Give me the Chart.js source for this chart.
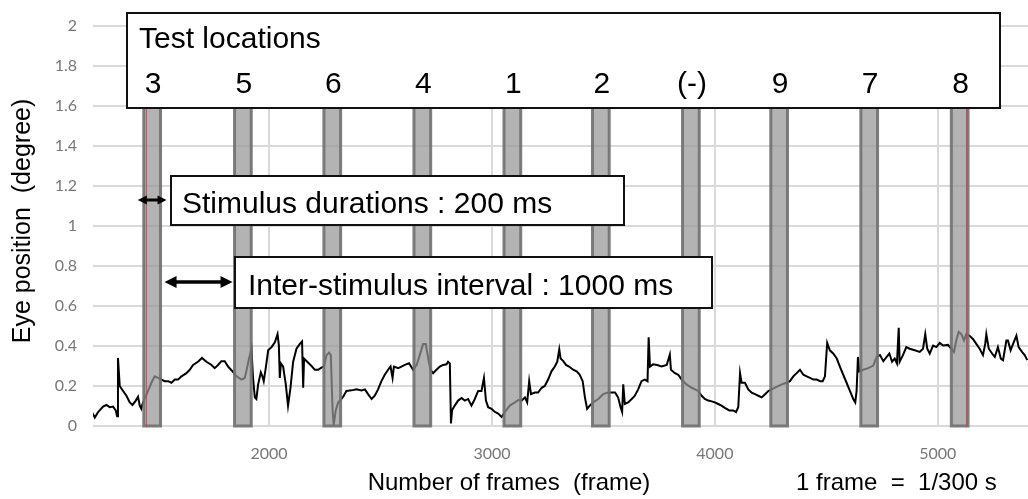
<!DOCTYPE html>
<html>
<head>
<meta charset="utf-8">
<script src="https://cdn.jsdelivr.net/npm/chart.js@4.4.1/dist/chart.umd.min.js"></script>
<style>
html, body { margin: 0; padding: 0; background: #fff; }
</style>
</head>
<body>
<canvas id="chart" width="1028" height="499"></canvas>
<script>
// x axis range and ticks (frames)
const xMin = 1210;
const xMax = 5405;
const xTicks = [2000, 3000, 4000, 5000];
const yTicks = [0, 0.2, 0.4, 0.6, 0.8, 1, 1.2, 1.4, 1.6, 1.8, 2];

// stimulus onsets (frame) and the test location shown at each
const stimulusStart = [1438, 1845, 2246, 2650, 3054, 3451, 3855, 4251, 4655, 5061];
const stimulusLength = 75;
const testLocations = ['3', '5', '6', '4', '1', '2', '(-)', '9', '7', '8'];
const markerFrames = [1450, 5127];

// eye trace
const frames = [
	1205,1218,1233,1255,1270,1285,1300,1312,1318,1322,1330,1345,1360,1375,1387,1402,1412,1420,1427,1432,
	1457,1472,1487,1502,1517,1532,1547,1562,1577,1592,1607,1629,1644,1659,1681,1699,1719,1742,1756,1771,
	1786,1801,1816,1836,1854,1876,1891,1901,1910,
	1921,1928,1936,1943,1951,1963,1970,1976,1985,1996,2011,2026,2038,2044,2048,2053,2063,2075,2085,2096,
	2108,2123,2138,2148,2153,2157,2171,2186,2205,2220,2235,2246,2258,2269,2277,2285,2290,2299,2310,2325,
	2335,2347,2370,2392,2415,2430,2444,2460,2474,2489,2504,2519,2534,2545,2554,2560,2579,2594,2609,2628,
	2646,2662,2676,2691,2703,2714,2724,2736,2751,2766,2781,2796,2803,2811,2816,2821,2833,2848,2864,2878,
	2893,2908,2923,2938,2953,2964,2973,2983,2998,3013,3028,3043,3058,3080,3103,3118,3133,3148,3158,3167,
	3175,3192,3207,3223,3237,3252,3267,3282,3293,3302,3308,3320,3332,3346,
	3364,3380,3394,3407,3417,3427,3439,3454,3477,3499,3521,3537,3552,3566,3577,3584,3589,3596,3611,3627,
	3641,3656,3671,3686,3698,3703,3709,3723,3741,3761,3784,3798,3803,3821,3836,3851,3873,3896,3911,3925,
	3941,3955,3970,3986,4000,4015,4030,4045,4065,
	4082,4095,4105,4113,4120,4135,4150,4165,4180,4195,4210,4225,4240,4255,4277,4300,4322,4337,4352,4367,
	4382,4397,4412,4427,4442,4457,4472,4484,4494,4504,4516,4531,4547,4561,4576,4591,4606,4621,4630,4636,
	4642,4648,4666,4688,4711,4726,4741,4756,4771,4783,
	4795,4807,4817,4825,4829,4844,4859,4874,4897,4919,4934,4944,4953,4964,4979,4994,5009,5024,5046,5061,
	5073,5083,5094,5106,5118,5128,5143,5158,5173,5188,5203,5213,5218,5229,5244,5256,5270,5283,5293,5308,
	5315,5327,5338,5353,5363,5378,5390,5402
];
const eyePosition = [
	0.070,0.042,0.070,0.097,0.105,0.094,0.097,0.078,0.049,0.340,0.200,0.175,0.151,0.118,0.105,0.127,0.146,0.102,0.086,0.110,
	0.175,0.216,0.248,0.240,0.232,0.224,0.224,0.216,0.232,0.232,0.248,0.264,0.281,0.305,0.321,0.340,0.321,0.305,0.289,0.305,
	0.324,0.324,0.297,0.273,0.248,0.232,0.240,0.289,0.337,
	0.386,0.240,0.143,0.135,0.208,0.268,0.248,0.224,0.289,0.378,0.394,0.418,0.459,0.402,0.240,0.313,0.297,0.208,0.102,0.191,
	0.321,0.386,0.410,0.422,0.191,0.337,0.321,0.305,0.281,0.281,0.292,0.297,0.354,0.367,0.354,0.078,0.005,0.078,0.118,0.135,
	0.151,0.175,0.178,0.183,0.178,0.183,0.159,0.135,0.151,0.183,0.224,0.256,0.281,0.297,0.240,0.297,0.289,0.297,0.305,0.313,
	0.281,0.305,0.354,0.410,0.410,0.337,0.281,0.264,0.281,0.297,0.305,0.308,0.321,0.313,0.013,0.078,0.102,0.127,0.140,0.127,
	0.135,0.102,0.135,0.175,0.175,0.240,0.127,0.094,0.086,0.070,0.062,0.045,0.070,0.102,0.118,0.130,0.127,0.143,0.118,0.224,
	0.159,0.167,0.167,0.191,0.200,0.232,0.273,0.297,0.321,0.383,0.337,0.324,0.305,0.297,
	0.281,0.273,0.256,0.224,0.143,0.086,0.102,0.118,0.135,0.159,0.167,0.167,0.167,0.143,0.094,0.070,0.208,0.110,0.118,0.135,
	0.151,0.183,0.224,0.232,0.224,0.443,0.297,0.308,0.305,0.297,0.305,0.357,0.281,0.264,0.256,0.232,0.208,0.191,0.183,0.175,
	0.151,0.135,0.127,0.123,0.118,0.110,0.102,0.091,0.078,
	0.078,0.070,0.094,0.264,0.216,0.216,0.183,0.167,0.159,0.151,0.143,0.159,0.175,0.183,0.195,0.208,0.216,0.224,0.248,0.264,
	0.281,0.256,0.248,0.240,0.232,0.232,0.224,0.224,0.248,0.415,0.378,0.362,0.337,0.297,0.256,0.216,0.175,0.135,0.118,0.175,
	0.345,0.273,0.281,0.289,0.302,0.345,0.354,0.324,0.345,0.362,
	0.321,0.337,0.313,0.491,0.321,0.354,0.394,0.386,0.378,0.370,0.386,0.459,0.386,0.362,0.402,0.394,0.415,0.402,0.405,0.386,
	0.370,0.427,0.470,0.459,0.427,0.459,0.451,0.435,0.410,0.386,0.354,0.410,0.459,0.386,0.362,0.345,0.394,0.337,0.329,0.427,
	0.427,0.378,0.410,0.451,0.394,0.370,0.354,0.329
];

const textFont = '"Liberation Sans", Arial, sans-serif';

function dblArrow(ctx, x1, x2, yy, head, half, width) {
	ctx.lineWidth = width;
	ctx.beginPath();
	ctx.moveTo(x1 + head - 1, yy);
	ctx.lineTo(x2 - head + 1, yy);
	ctx.stroke();
	ctx.beginPath();
	ctx.moveTo(x1, yy); ctx.lineTo(x1 + head, yy - half); ctx.lineTo(x1 + head, yy + half);
	ctx.closePath(); ctx.fill();
	ctx.beginPath();
	ctx.moveTo(x2, yy); ctx.lineTo(x2 - head, yy - half); ctx.lineTo(x2 - head, yy + half);
	ctx.closePath(); ctx.fill();
}

const overlay = {
	id: 'overlay',
	afterDatasetsDraw(chart) {
		const {ctx, scales: {x, y}} = chart;
		const top = y.getPixelForValue(2);
		const bottom = y.getPixelForValue(0);
		ctx.save();

		// stimulus periods
		ctx.fillStyle = 'rgba(150,150,150,0.72)';
		ctx.strokeStyle = 'rgba(112,112,112,0.9)';
		ctx.lineWidth = 3;
		const bars = stimulusStart.map(s => {
			const l = x.getPixelForValue(s);
			const r = x.getPixelForValue(s + stimulusLength);
			ctx.fillRect(l, top, r - l, bottom - top);
			ctx.strokeRect(l, top, r - l, bottom - top);
			return {l: l, r: r};
		});

		// red markers
		ctx.strokeStyle = 'rgba(210,60,60,0.8)';
		ctx.lineWidth = 1;
		markerFrames.forEach(f => {
			const px = Math.round(x.getPixelForValue(f)) + 0.5;
			ctx.beginPath();
			ctx.moveTo(px, top);
			ctx.lineTo(px, bottom + 1);
			ctx.stroke();
		});

		// boxes
		ctx.fillStyle = '#fff';
		ctx.strokeStyle = '#111';
		ctx.lineWidth = 2;
		[[127, 13, 873, 95], [171, 176, 453, 49], [235, 257, 477, 51]].forEach(b => {
			ctx.fillRect(b[0], b[1], b[2], b[3]);
			ctx.strokeRect(b[0], b[1], b[2], b[3]);
		});

		ctx.fillStyle = '#000';
		ctx.textBaseline = 'alphabetic';
		ctx.font = '30px ' + textFont;
		ctx.textAlign = 'left';
		ctx.fillText('Test locations', 139, 48);
		ctx.fillText('Stimulus durations : 200 ms', 182, 213);
		ctx.fillText('Inter-stimulus interval : 1000 ms', 248, 295);
		ctx.textAlign = 'center';
		testLocations.forEach((t, i) => {
			ctx.fillText(t, (bars[i].l + bars[i].r) / 2 + 1, 93);
		});

		// arrows
		ctx.strokeStyle = '#000';
		dblArrow(ctx, bars[0].l - 6, bars[0].r + 6, 200, 9, 4.5, 3);
		dblArrow(ctx, bars[0].r + 4, bars[1].l - 2, 282, 12, 6, 3.5);

		// axis titles
		ctx.font = '24px ' + textFont;
		ctx.textAlign = 'center';
		ctx.fillText('Number of frames  (frame)', 509, 490);
		ctx.textAlign = 'left';
		ctx.fillText('1 frame  =  1/300 s', 796, 490);
		ctx.save();
		ctx.translate(30, 221);
		ctx.rotate(-Math.PI / 2);
		ctx.textAlign = 'center';
		ctx.font = '25px ' + textFont;
		ctx.fillText('Eye position  (degree)', 0, 0);
		ctx.restore();

		ctx.restore();
	}
};

const tickFont = {family: 'Lato', size: 16};

new Chart(document.getElementById('chart'), {
	type: 'line',
	data: {
		datasets: [{
			data: frames.map((f, i) => ({x: f, y: eyePosition[i]})),
			borderColor: '#000',
			borderWidth: 2,
			pointRadius: 0,
			tension: 0,
			fill: false,
		}],
	},
	options: {
		responsive: false,
		animation: false,
		layout: {padding: {top: 15, left: 0, right: 0, bottom: 0}},
		plugins: {
			legend: {display: false},
			tooltip: {enabled: false},
		},
		scales: {
			x: {
				type: 'linear',
				min: xMin,
				max: xMax,
				afterBuildTicks: s => { s.ticks = xTicks.map(v => ({value: v})); },
				afterFit: s => { s.height = 73; },
				grid: {color: '#dadada', lineWidth: 2, drawTicks: false},
				border: {display: false},
				ticks: {
					padding: 18,
					color: '#777',
					font: tickFont,
					maxRotation: 0,
					autoSkip: false,
					callback: v => String(v),
				},
			},
			y: {
				type: 'linear',
				min: 0,
				max: 2,
				afterBuildTicks: s => { s.ticks = yTicks.map(v => ({value: v})); },
				afterFit: s => { s.width = 93; },
				grid: {color: '#dadada', lineWidth: 2, drawTicks: false},
				border: {display: false},
				ticks: {
					padding: 16,
					color: '#777',
					font: tickFont,
					callback: v => String(+v.toFixed(1)),
				},
			},
		},
	},
	plugins: [overlay],
});
</script>
</body>
</html>
